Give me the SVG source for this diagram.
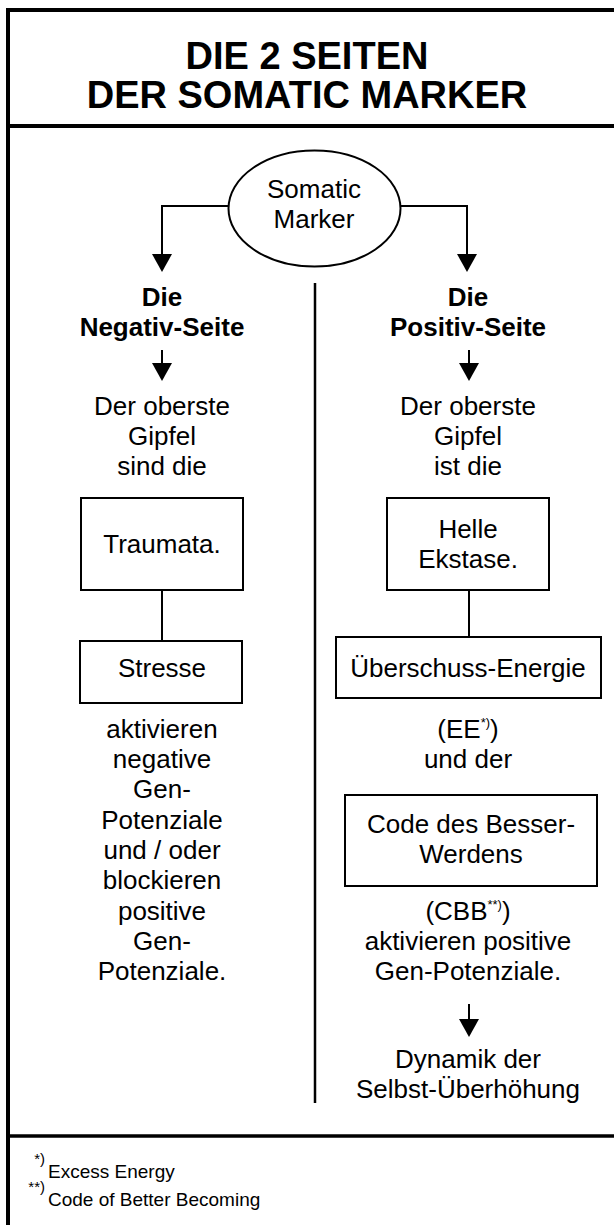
<svg xmlns="http://www.w3.org/2000/svg" width="614" height="1225" viewBox="0 0 614 1225">
  <defs>
    <style>
      .t { font-family: "Liberation Sans", Arial, sans-serif; font-size: 26px; fill: #000; text-anchor: middle; }
      .b { font-weight: bold; }
      .title { font-family: "Liberation Sans", Arial, sans-serif; font-size: 38px; font-weight: bold; fill: #000; text-anchor: middle; }
      .fn { font-family: "Liberation Sans", Arial, sans-serif; font-size: 19px; fill: #000; }
      .sup { font-family: "Liberation Sans", Arial, sans-serif; font-size: 13px; fill: #000; }
      .fsup { font-family: "Liberation Sans", Arial, sans-serif; font-size: 15px; fill: #000; text-anchor: end; }
      .box { fill: #fff; stroke: #000; stroke-width: 2; }
      .line { fill: none; stroke: #000; stroke-width: 2; }
      .frame { fill: none; stroke: #000; stroke-width: 4; }
    </style>
    <marker id="ah" markerUnits="userSpaceOnUse" markerWidth="18" markerHeight="20" refX="0" refY="10" orient="auto" viewBox="0 0 18 20">
      <path d="M0,0 L18,10 L0,20 z" fill="#000"/>
    </marker>
  </defs>

  <rect width="614" height="1225" fill="#fff"/>

  <!-- outer frame, header and footer rules -->
  <g id="frame">
    <path class="frame" d="M8,1225 V10 H614"/>
    <path class="frame" d="M6,126 H614"/>
    <path class="frame" d="M6,1136 H614" style="stroke-width:3.5"/>
  </g>

  <g id="title">
    <text class="title" x="307" y="69">DIE 2 SEITEN</text>
    <text class="title" x="307" y="108">DER SOMATIC MARKER</text>
  </g>

  <!-- connectors -->
  <g id="connectors">
    <path class="line" d="M228,206 H162 V254" marker-end="url(#ah)"/>
    <path class="line" d="M401,206 H467 V254" marker-end="url(#ah)"/>
    <path class="line" d="M162,350 V363" marker-end="url(#ah)"/>
    <path class="line" d="M469,350 V363" marker-end="url(#ah)"/>
    <path class="line" d="M162,590 V641"/>
    <path class="line" d="M469,590 V637"/>
    <path class="line" d="M469,1004 V1019" marker-end="url(#ah)"/>
    <path class="line" d="M315,283 V1103" style="stroke-width:2.5"/>
  </g>

  <g id="somatic-marker">
    <ellipse class="box" cx="314.5" cy="208.5" rx="86" ry="58"/>
    <text class="t" x="314" y="198">Somatic</text>
    <text class="t" x="314" y="228">Marker</text>
  </g>

  <!-- negative side -->
  <g id="negativ-seite">
    <text class="t b" x="162" y="306">Die</text>
    <text class="t b" x="162" y="336">Negativ-Seite</text>
  </g>
  <g id="negativ-gipfel">
    <text class="t" x="162" y="415">Der oberste</text>
    <text class="t" x="162" y="445">Gipfel</text>
    <text class="t" x="162" y="475">sind die</text>
  </g>
  <g id="traumata">
    <rect class="box" x="81" y="498" width="162" height="92"/>
    <text class="t" x="162" y="553">Traumata.</text>
  </g>
  <g id="stresse">
    <rect class="box" x="80" y="641" width="162" height="62"/>
    <text class="t" x="162" y="677">Stresse</text>
  </g>
  <g id="negativ-wirkung">
    <text class="t" x="162" y="738">aktivieren</text>
    <text class="t" x="162" y="768">negative</text>
    <text class="t" x="162" y="798">Gen-</text>
    <text class="t" x="162" y="829">Potenziale</text>
    <text class="t" x="162" y="859">und / oder</text>
    <text class="t" x="162" y="889">blockieren</text>
    <text class="t" x="162" y="920">positive</text>
    <text class="t" x="162" y="950">Gen-</text>
    <text class="t" x="162" y="980">Potenziale.</text>
  </g>

  <!-- positive side -->
  <g id="positiv-seite">
    <text class="t b" x="468" y="306">Die</text>
    <text class="t b" x="468" y="336">Positiv-Seite</text>
  </g>
  <g id="positiv-gipfel">
    <text class="t" x="468" y="415">Der oberste</text>
    <text class="t" x="468" y="445">Gipfel</text>
    <text class="t" x="468" y="475">ist die</text>
  </g>
  <g id="helle-ekstase">
    <rect class="box" x="387" y="498" width="162" height="92"/>
    <text class="t" x="468" y="538">Helle</text>
    <text class="t" x="468" y="568">Ekstase.</text>
  </g>
  <g id="ueberschuss-energie">
    <rect class="box" x="336" y="637" width="265" height="61"/>
    <text class="t" x="468" y="677">Überschuss-Energie</text>
    <text class="t" x="468" y="738">(EE<tspan class="sup" dy="-11">*)</tspan><tspan dy="11">)</tspan></text>
    <text class="t" x="468" y="768">und der</text>
  </g>
  <g id="code-besser-werden">
    <rect class="box" x="345" y="795" width="252" height="91"/>
    <text class="t" x="471" y="833">Code des Besser-</text>
    <text class="t" x="471" y="863">Werdens</text>
    <text class="t" x="468" y="920">(CBB<tspan class="sup" dy="-11">**)</tspan><tspan dy="11">)</tspan></text>
    <text class="t" x="468" y="950">aktivieren positive</text>
    <text class="t" x="468" y="980">Gen-Potenziale.</text>
  </g>
  <g id="selbst-ueberhoehung">
    <text class="t" x="468" y="1068">Dynamik der</text>
    <text class="t" x="468" y="1098">Selbst-Überhöhung</text>
  </g>

  <!-- footnotes -->
  <g id="footnotes">
    <text class="fsup" x="45" y="1164">*)</text>
    <text class="fn" x="48" y="1178">Excess Energy</text>
    <text class="fsup" x="45" y="1192">**)</text>
    <text class="fn" x="48" y="1206">Code of Better Becoming</text>
  </g>
</svg>
